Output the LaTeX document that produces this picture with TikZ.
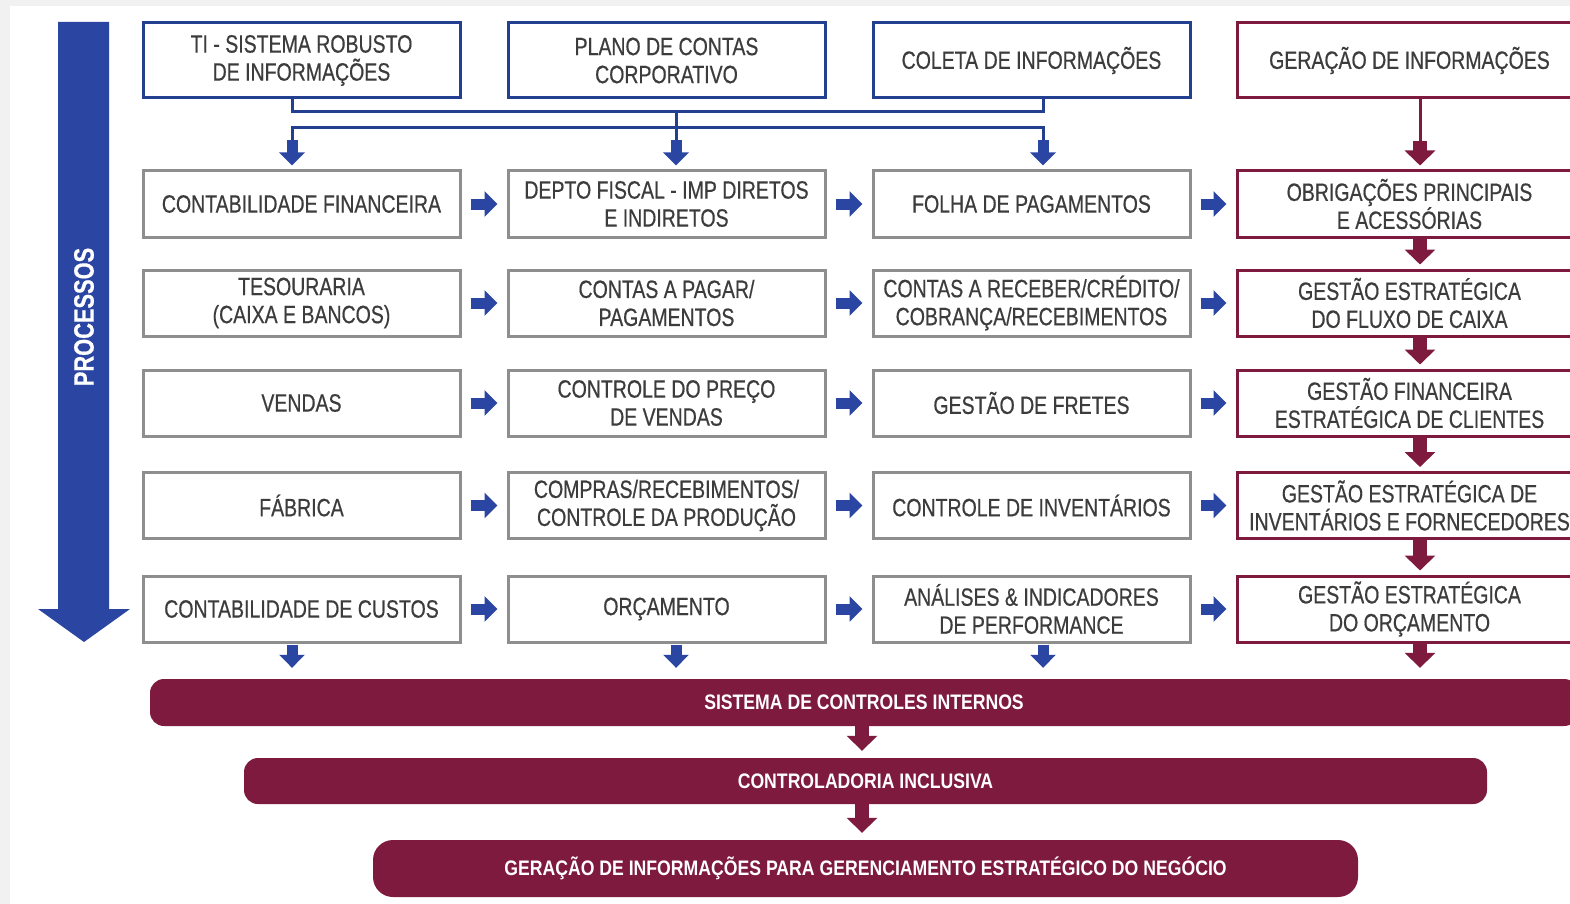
\documentclass[tikz,border=0pt]{standalone}
\usepackage{fontspec}
\setmainfont{Liberation Sans}[FakeStretch=0.78, FakeBold=0.5]
\newfontfamily\barfont{Liberation Sans}[FakeStretch=0.84]
\usetikzlibrary{arrows.meta}

\definecolor{procblue}{HTML}{2B45A3}
\definecolor{boxblue}{HTML}{22408F}
\definecolor{wine}{HTML}{7E1A3E}
\definecolor{boxgrey}{HTML}{8E8E8E}
\definecolor{txtgrey}{HTML}{3C3C3C}
\definecolor{pagegrey}{HTML}{F1F1F1}

\tikzset{
  box/.style={draw=boxgrey, line width=3pt, fill=white, minimum width=317pt,
    minimum height=66pt, align=center, inner sep=0pt, text=txtgrey,
    font=\fontsize{25}{28}\selectfont},
  topbox/.style={box, draw=boxblue, minimum height=75pt},
  winebox/.style={box, draw=wine, minimum width=345pt},
  bar/.style={fill=wine, text=white, inner sep=0pt,
    font=\barfont\bfseries\fontsize{21}{24}\selectfont},
  bline/.style={draw=boxblue, line width=3pt},
  wline/.style={draw=wine, line width=3pt},
  barrow/.style={draw=procblue, line width=11pt, -{Triangle[width=25pt,length=13pt]}},
  warrow/.style={draw=wine, line width=14pt, -{Triangle[width=30pt,length=15pt]}},
}

\begin{document}
\begin{tikzpicture}[x=1pt, y=-1pt]
\useasboundingbox (0,0) rectangle (1570,904);
\clip (0,0) rectangle (1570,904);
\fill[pagegrey] (0,0) rectangle (1570,904);
\fill[white] (10,6) rectangle (1570,904);

% processos
\fill[procblue] (58,22) -- (109,22) -- (109,609) -- (130,609) -- (84,642)
  -- (38,609) -- (58,609) -- cycle;
\node[rotate=90, text=white, font=\bfseries\fontsize{28}{30}\selectfont] (proc) at (84,317) {PROCESSOS};

% top row
\node[topbox] (ti) at (301.5,60.5) {TI - SISTEMA ROBUSTO\\DE INFORMAÇÕES};
\node[topbox] (plano) at (666.5,60.5) {PLANO DE CONTAS\\CORPORATIVO};
\node[topbox] (coleta) at (1031.5,60.5) {COLETA DE INFORMAÇÕES};
\node[topbox, draw=wine, minimum width=345pt] (geracao) at (1409.5,60.5) {GERAÇÃO DE INFORMAÇÕES};

% rows
\node[box] (contfin) at (301.5,204) {CONTABILIDADE FINANCEIRA};
\node[box] (fiscal) at (666.5,204) {DEPTO FISCAL - IMP DIRETOS\\E INDIRETOS};
\node[box] (folha) at (1031.5,204) {FOLHA DE PAGAMENTOS};
\node[winebox] (obrig) at (1409.5,204) {OBRIGAÇÕES PRINCIPAIS\\E ACESSÓRIAS};

\node[box] (tesour) at (301.5,303) {TESOURARIA\\(CAIXA E BANCOS)};
\node[box] (pagar) at (666.5,303) {CONTAS A PAGAR/\\PAGAMENTOS};
\node[box] (receber) at (1031.5,303) {CONTAS A RECEBER/CRÉDITO/\\COBRANÇA/RECEBIMENTOS};
\node[winebox] (fluxo) at (1409.5,303) {GESTÃO ESTRATÉGICA\\DO FLUXO DE CAIXA};

\node[box] (vendas) at (301.5,403) {VENDAS};
\node[box] (preco) at (666.5,403) {CONTROLE DO PREÇO\\DE VENDAS};
\node[box] (fretes) at (1031.5,403) {GESTÃO DE FRETES};
\node[winebox] (clientes) at (1409.5,403) {GESTÃO FINANCEIRA\\ESTRATÉGICA DE CLIENTES};

\node[box] (fabrica) at (301.5,505.5) {FÁBRICA};
\node[box] (compras) at (666.5,505.5) {COMPRAS/RECEBIMENTOS/\\CONTROLE DA PRODUÇÃO};
\node[box] (invent) at (1031.5,505.5) {CONTROLE DE INVENTÁRIOS};
\node[winebox] (fornec) at (1409.5,505.5) {GESTÃO ESTRATÉGICA DE\\INVENTÁRIOS E FORNECEDORES};

\node[box] (custos) at (301.5,609) {CONTABILIDADE DE CUSTOS};
\node[box] (orcam) at (666.5,609) {ORÇAMENTO};
\node[box] (analises) at (1031.5,609) {ANÁLISES \& INDICADORES\\DE PERFORMANCE};
\node[winebox] (orcgest) at (1409.5,609) {GESTÃO ESTRATÉGICA\\DO ORÇAMENTO};

% bars
\node[bar, minimum width=1428pt, minimum height=47pt, rounded corners=14pt] (sci) at (864,702.5) {SISTEMA DE CONTROLES INTERNOS};
\node[bar, minimum width=1243pt, minimum height=46pt, rounded corners=14pt] (ci) at (865.5,781) {CONTROLADORIA INCLUSIVA};
\node[bar, minimum width=985pt, minimum height=57pt, rounded corners=20pt] (ger) at (865.5,868.5) {GERAÇÃO DE INFORMAÇÕES PARA GERENCIAMENTO ESTRATÉGICO DO NEGÓCIO};

% top connectors
\coordinate (ja) at ([xshift=-9.5pt]ti.south |- 0,140);
\coordinate (jb) at ([xshift=9.5pt]plano.south |- 0,140);
\coordinate (jc) at ([xshift=11.5pt]coleta.south |- 0,140);
\draw[bline] ([xshift=-9.5pt]ti.south) -- ++(0,12) -| ([xshift=11.5pt]coleta.south);
\draw[bline] (jb |- 0,110) -- (jb);
\draw[bline] (ja) |- (jc |- 0,128) -- (jc);
\draw[barrow, shorten >=4pt] (ja) -- ([xshift=-9.5pt]contfin.north);
\draw[barrow, shorten >=4pt] (jb) -- ([xshift=9.5pt]fiscal.north);
\draw[barrow, shorten >=4pt] (jc) -- ([xshift=11.5pt]folha.north);
\draw[wline] ([xshift=10.5pt]geracao.south) -- ++(0,42) coordinate (jd);
\draw[warrow, shorten >=4pt] (jd) -- ([xshift=10.5pt]obrig.north);

% across the rows
\foreach \a/\b in {contfin/fiscal, fiscal/folha, folha/obrig,
  tesour/pagar, pagar/receber, receber/fluxo,
  vendas/preco, preco/fretes, fretes/clientes,
  fabrica/compras, compras/invent, invent/fornec,
  custos/orcam, orcam/analises, analises/orcgest}
  \draw[barrow, shorten <=9pt, shorten >=9pt] (\a) -- (\b);

% down the last column
\foreach \a/\b in {obrig/fluxo, fluxo/clientes, clientes/fornec, fornec/orcgest}
  \draw[warrow, shorten >=4pt] ([xshift=10.5pt]\a.south) -- ([xshift=10.5pt]\b.north);

% into the bars
\foreach \n/\s in {custos/-9.5, orcam/9.5, analises/11.5}
  \draw[barrow, shorten <=1pt, shorten >=11pt] ([xshift=\s pt]\n.south) -- ([xshift=\s pt]\n.south |- sci.north);
\draw[warrow, shorten >=11pt] ([xshift=10.5pt]orcgest.south) -- ([xshift=10.5pt]orcgest.south |- sci.north);
\draw[warrow, shorten >=7pt] ([xshift=-2pt]sci.south) -- ([xshift=-3.5pt]ci.north);
\draw[warrow, shorten >=7pt] ([xshift=-3.5pt]ci.south) -- ([xshift=-3.5pt]ger.north);
\end{tikzpicture}
\end{document}
